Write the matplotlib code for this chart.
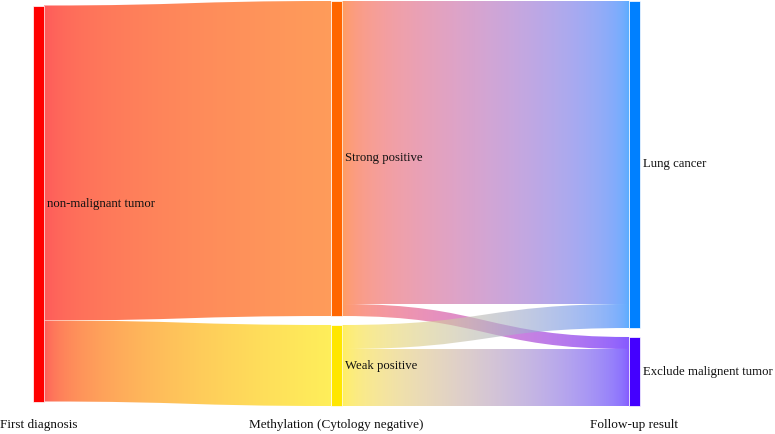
import numpy as np
import matplotlib
matplotlib.use("Agg")
import matplotlib.pyplot as plt
from matplotlib.path import Path
from matplotlib.patches import PathPatch, Rectangle
from matplotlib.colors import to_rgb

# nodes: (label, column, colour)
node_labels = ["non-malignant tumor", "Strong positive", "Weak positive",
               "Lung cancer", "Exclude malignent tumor"]
node_cols = [0, 1, 1, 2, 2]
node_colors = ["#ff0000", "#ff6600", "#ffe600", "#0080ff", "#4400ff"]

# links: source -> target, value (patients)
link_src = [0, 0, 1, 1, 2, 2]
link_tgt = [1, 2, 3, 4, 3, 4]
link_val = [105, 27, 101, 4, 8, 19]

column_titles = ["First diagnosis", "Methylation (Cytology negative)", "Follow-up result"]

# layout, pixel units
W, H = 775, 434
col_x = [33, 331, 629]
node_w = 11
top, bottom = 1, 406
pad = 9
link_alpha = 0.65


def to_linear(c):
    c = np.asarray(c, dtype=float)
    return np.where(c <= 0.04045, c / 12.92, ((c + 0.055) / 1.055) ** 2.4)


def to_srgb(lin):
    lin = np.clip(lin, 0, 1)
    return np.where(lin <= 0.0031308, 12.92 * lin, 1.055 * lin ** (1 / 2.4) - 0.055)


def layout_nodes():
    n = len(node_labels)
    inflow = np.zeros(n)
    outflow = np.zeros(n)
    for s, t, v in zip(link_src, link_tgt, link_val):
        outflow[s] += v
        inflow[t] += v
    size = np.maximum(inflow, outflow)

    cols = sorted(set(node_cols))
    col_nodes = {c: [i for i in range(n) if node_cols[i] == c] for c in cols}
    # scale chosen so the fullest column fits
    scale = min((bottom - top - pad * (len(col_nodes[c]) - 1)) / size[col_nodes[c]].sum()
                for c in cols)

    y0 = np.zeros(n)
    y1 = np.zeros(n)
    for c in cols:
        ids = col_nodes[c]
        total = size[ids].sum() * scale + pad * (len(ids) - 1)
        y = top + (bottom - top - total) / 2
        for i in ids:
            y0[i] = y
            y1[i] = y + size[i] * scale
            y = y1[i] + pad
    return y0, y1, scale


def band_path(xa, ya0, ya1, xb, yb0, yb1, curv=0.5):
    xm0 = xa + (xb - xa) * curv
    xm1 = xb - (xb - xa) * curv
    verts = [(xa, ya0), (xm0, ya0), (xm1, yb0), (xb, yb0),
             (xb, yb1), (xm1, yb1), (xm0, ya1), (xa, ya1), (xa, ya0)]
    codes = [Path.MOVETO, Path.CURVE4, Path.CURVE4, Path.CURVE4,
             Path.LINETO, Path.CURVE4, Path.CURVE4, Path.CURVE4, Path.CLOSEPOLY]
    return Path(verts, codes)


y0, y1, scale = layout_nodes()

fig = plt.figure(figsize=(W / 100, H / 100), dpi=100)
ax = fig.add_axes([0, 0, 1, 1])
ax.set_xlim(0, W)
ax.set_ylim(H, 0)
ax.axis("off")

# stack links at each node in order of the other end's position
out_off = {i: y0[i] for i in range(len(node_labels))}
in_off = {i: y0[i] for i in range(len(node_labels))}
order = sorted(range(len(link_val)), key=lambda k: (link_src[k], y0[link_tgt[k]]))
src_pos = {}
for k in order:
    h = link_val[k] * scale
    src_pos[k] = (out_off[link_src[k]], out_off[link_src[k]] + h)
    out_off[link_src[k]] += h
order = sorted(range(len(link_val)), key=lambda k: (link_tgt[k], y0[link_src[k]]))
tgt_pos = {}
for k in order:
    h = link_val[k] * scale
    tgt_pos[k] = (in_off[link_tgt[k]], in_off[link_tgt[k]] + h)
    in_off[link_tgt[k]] += h

for k in range(len(link_val)):
    s, t = link_src[k], link_tgt[k]
    xa = col_x[node_cols[s]] + node_w
    xb = col_x[node_cols[t]]
    (ya0, ya1), (yb0, yb1) = src_pos[k], tgt_pos[k]
    path = band_path(xa, ya0, ya1, xb, yb0, yb1)
    patch = PathPatch(path, facecolor="none", edgecolor="none")
    ax.add_patch(patch)
    # gradient mixed in linear light between the two node colours
    c0 = to_linear(to_rgb(node_colors[s]))
    c1 = to_linear(to_rgb(node_colors[t]))
    f = np.linspace(0, 1, 256)[:, None]
    grad = np.ones((1, 256, 4))
    grad[0, :, :3] = to_srgb(c0 * (1 - f) + c1 * f)
    grad[0, :, 3] = link_alpha
    lo, hi = min(ya0, yb0), max(ya1, yb1)
    im = ax.imshow(grad, extent=[xa, xb, hi, lo], aspect="auto",
                   interpolation="bilinear", zorder=1)
    im.set_clip_path(patch)

for i, lab in enumerate(node_labels):
    x = col_x[node_cols[i]]
    ax.add_patch(Rectangle((x, y0[i]), node_w, y1[i] - y0[i],
                           facecolor=node_colors[i], edgecolor="white",
                           linewidth=0.5, zorder=2))
    ax.text(x + node_w + 3, (y0[i] + y1[i]) / 2, lab, ha="left", va="center",
            fontsize=9.2, family="Liberation Serif", color="#111111", zorder=3)

for c, title in enumerate(column_titles):
    ax.text(col_x[c] + node_w / 2, 425, title, ha="center", va="center",
            fontsize=9.5, family="Liberation Serif", color="#111111")

fig.savefig("out.png", dpi=100)
